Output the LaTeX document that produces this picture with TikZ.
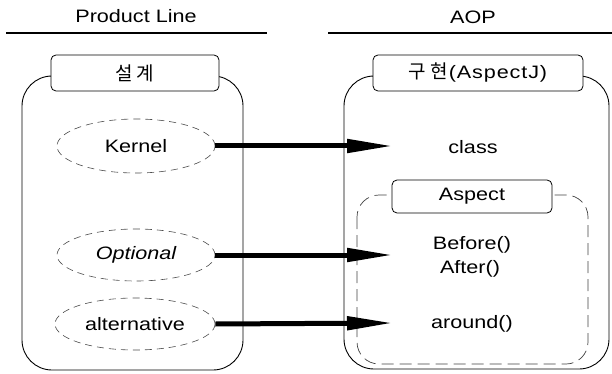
\documentclass[tikz,border=0pt]{standalone}
\usepackage{fontspec}
\setmainfont{Liberation Sans}[FakeStretch=1.2]
\newfontfamily\kr{Noto Sans CJK KR}
\usetikzlibrary{arrows.meta,shapes.geometric}
\tikzset{
  lbl/.style={font=\fontsize{18pt}{20pt}\selectfont, inner sep=0pt},
  titlebox/.style={draw, line width=0.8pt, rounded corners=5pt, fill=white, inner sep=0pt, font=\fontsize{18pt}{20pt}\selectfont},
  feature/.style={ellipse, draw=black!70, dashed, dash pattern=on 7pt off 5pt, line width=0.6pt, inner sep=0pt, font=\fontsize{18pt}{20pt}\selectfont},
  container/.style={draw, line width=0.9pt, rounded corners=30pt},
  inner/.style={draw=black!75, line width=0.7pt, dash pattern=on 12pt off 6pt, rounded corners=22pt},
  rule/.style={line width=2pt},
  bigarrow/.style={line width=5pt, -{Triangle[length=46pt,width=13pt]}}
}
\begin{document}
\begin{tikzpicture}[x=1pt,y=-1pt]
\useasboundingbox (0,0) rectangle (612,374);
% headers
\node[lbl] (hpl) at (136,16) {Product Line};
\node[lbl] (haop) at (473,17) {AOP};
\coordinate (l1) at (6,33); \coordinate (l2) at (267,33);
\coordinate (r1) at (328,33); \coordinate (r2) at (612,33);
\draw[rule] (l1) -- (l2);
\draw[rule] (r1) -- (r2);
% containers
\draw[container] (22,76) rectangle (243,370);
\draw[container] (344,76) rectangle (609,369);
\draw[inner] (357,195) rectangle (588,364);
% title boxes
\node[titlebox, minimum width=168pt, minimum height=36pt] (tpl) at (135,73) {{\kr\fontsize{19pt}{20pt}\selectfont 설\hspace{4pt}계}};
\node[titlebox, minimum width=210pt, minimum height=36pt] (taop) at (478,73) {{\kr\fontsize{19pt}{20pt}\selectfont 구\hspace{4pt}현}\hspace{1pt}{\addfontfeature{LetterSpace=5}(AspectJ)}};
\node[titlebox, minimum width=160pt, minimum height=33pt] (tasp) at (472,196.5) {Aspect};
% features
\node[feature, minimum width=158pt, minimum height=54pt] (k) at (136,146) {Kernel};
\node[feature, minimum width=158pt, minimum height=52pt] (o) at (136,255) {\itshape Optional};
\node[feature, minimum width=160pt, minimum height=52pt] (a) at (135,324) {alternative};
% right texts
\node[lbl] (cls) at (473,147) {class};
\node[lbl] (bef) at (472,245) {Before()};
\node[lbl] (aft) at (470,269) {After()};
\node[lbl] (aro) at (472,324) {around()};
% arrows
\coordinate (ek) at (393,146);
\coordinate (eo) at (393,255);
\coordinate (ea) at (393,323);
\draw[bigarrow] (k.east) -- (ek);
\draw[bigarrow] (o.east) -- (eo);
\draw[bigarrow] (a.east) -- (ea);
\end{tikzpicture}
\end{document}
